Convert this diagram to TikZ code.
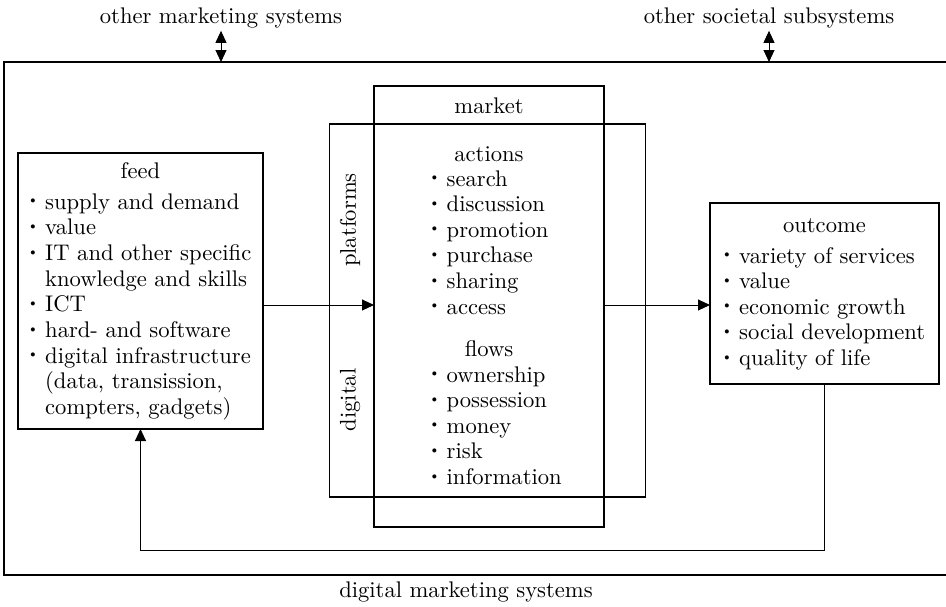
\documentclass[tikz,border=0pt]{standalone}
\usepackage{graphicx}
\usepackage{fontspec}
\setmainfont{lmroman10-regular.otf}
\usepackage{tikz}
\usetikzlibrary{arrows.meta}

\newcommand\itm{\makebox[0pt][r]{\raisebox{5.3pt}{\scalebox{0.5}{$\bullet$}}\hspace{9.7pt}}}

\begin{document}
\begin{tikzpicture}[x=1pt,y=-1pt,
    box/.style={draw, line width=1.2pt, inner sep=0pt, outer sep=0pt},
    txt/.style={anchor=base, inner sep=3pt, font=\fontsize{22.6}{25.7}\selectfont},
    li/.style={anchor=base west, inner sep=0pt, font=\fontsize{22.6}{25.7}\selectfont},
    tip/.style={-{Triangle[length=12pt,width=11pt]}, line width=1pt},
    dtip/.style={{Triangle[length=12pt,width=11pt]}-{Triangle[length=12pt,width=11pt]}, line width=1pt}]
      \useasboundingbox (0,0) rectangle (946,606);

      \node[box, anchor=north west, minimum width=950pt, minimum height=513pt](Frame) at (4, 62) {};
      \node[txt](OthMkt) at (221, 23) {other marketing systems};
      \node[txt](OthSoc) at (769, 23) {other societal subsystems};
      \node[txt](DigMkt) at (466, 597) {digital marketing systems};

      \node[box, minimum width=245pt, minimum height=276pt](Feed) at (140.5, 291) {};
        \node[txt](FeedT) at (140.5, 178) {feed};
        \node[li](Feed1) at (45, 209) {\itm supply and demand};
        \node[li](Feed2) at (45, 234.7) {\itm value};
        \node[li](Feed3) at (45, 260.4) {\itm IT and other specific};
        \node[li](Feed4) at (45, 286.1) {knowledge and skills};
        \node[li](Feed5) at (45, 311.8) {\itm ICT};
        \node[li](Feed6) at (45, 337.5) {\itm hard- and software};
        \node[li](Feed7) at (45, 363.2) {\itm digital infrastructure};
        \node[li](Feed8) at (45, 388.9) {(data, transission,};
        \node[li](Feed9) at (45, 414.6) {compters, gadgets)};

      \node[box, minimum width=316pt, minimum height=373pt](Plat) at (487.5, 310.5) {};
        \node[txt, anchor=center, rotate=90](PlatT) at (350, 220) {platforms};
        \node[txt, anchor=center, rotate=90](DigT) at (350, 400) {digital};

      \node[box, minimum width=230pt, minimum height=441pt](Mkt) at (489, 306.5) {};
        \node[txt](MktT) at (489, 113) {market};
        \node[txt](Act) at (489, 161) {actions};
          \node[li](Act1) at (446.5, 186) {\itm search};
          \node[li](Act2) at (446.5, 211.6) {\itm discussion};
          \node[li](Act3) at (446.5, 237.2) {\itm promotion};
          \node[li](Act4) at (446.5, 262.8) {\itm purchase};
          \node[li](Act5) at (446.5, 288.4) {\itm sharing};
          \node[li](Act6) at (446.5, 314) {\itm access};
        \node[txt](Flw) at (489, 356) {flows};
          \node[li](Flw1) at (446.5, 382) {\itm ownership};
          \node[li](Flw2) at (446.5, 407.6) {\itm possession};
          \node[li](Flw3) at (446.5, 433.2) {\itm money};
          \node[li](Flw4) at (446.5, 458.8) {\itm risk};
          \node[li](Flw5) at (446.5, 484.4) {\itm information};

      \node[box, minimum width=229pt, minimum height=181pt](Out) at (824.5, 293.5) {};
        \node[txt](OutT) at (824.5, 232) {outcome};
        \node[li](Out1) at (739, 263) {\itm variety of services};
        \node[li](Out2) at (739, 288.6) {\itm value};
        \node[li](Out3) at (739, 314.2) {\itm economic growth};
        \node[li](Out4) at (739, 339.8) {\itm social development};
        \node[li](Out5) at (739, 365.4) {\itm quality of life};

      \coordinate(Mid) at (0, 305);
      \coordinate(Back) at (0, 550);

      \draw[dtip] (OthMkt.south) -- (OthMkt.south |- Frame.north);
      \draw[dtip] (OthSoc.south) -- (OthSoc.south |- Frame.north);
      \draw[tip] (Feed.east |- Mid) -- (Mkt.west |- Mid);
      \draw[tip] (Mkt.east |- Mid) -- (Out.west |- Mid);
      \draw[tip] (Out.south) -- (Out.south |- Back) -| (Feed.south);
    \end{tikzpicture}
\end{document}
